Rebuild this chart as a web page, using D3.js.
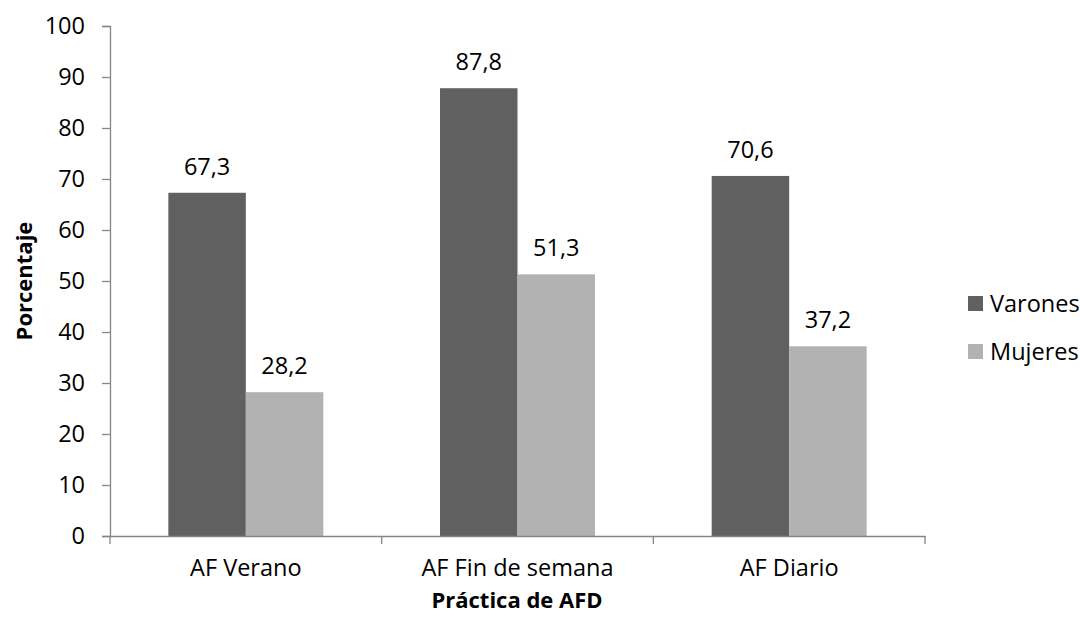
<!DOCTYPE html>
<html><head><meta charset="utf-8">
<script src="https://cdn.jsdelivr.net/npm/d3@7"></script>
<style>body{margin:0;background:#fff}svg{display:block}text{font-family:"Open Sans",sans-serif;fill:#000}</style>
</head><body>
<svg id="c" width="1080" height="619"></svg>
<script>
const categories = ["AF Verano", "AF Fin de semana", "AF Diario"];
const seriesNames = ["Varones", "Mujeres"];
const varones = [67.3, 87.8, 70.6];
const mujeres = [28.2, 51.3, 37.2];
const yTicks = [0, 10, 20, 30, 40, 50, 60, 70, 80, 90, 100];
const colors = ["#606060", "#b2b2b2"];

const svg = d3.select("#c");
const fs = 23.5;
const x = d3.scaleBand().domain(categories).range([110, 925]).paddingInner(0).paddingOuter(0);
const x1 = d3.scaleBand().domain(seriesNames).range([0, x.bandwidth()]).paddingOuter(0.753).paddingInner(0);
const y = d3.scaleLinear().domain([0, 100]).range([536, 26]);

// y axis
const ya = svg.append("g").attr("transform", "translate(110,0)")
  .call(d3.axisLeft(y).tickValues(yTicks).tickSize(8).tickPadding(17));
ya.select(".domain").attr("stroke", "#868686").attr("stroke-width", 1.3);
ya.selectAll(".tick line").attr("stroke", "#868686").attr("stroke-width", 1.3);
ya.selectAll("text").style("font-size", fs + "px").style("font-family", "Open Sans").attr("fill", "#000");

// bars
const data = categories.map((c, i) => ({c, vals: [varones[i], mujeres[i]]}));
const g = svg.append("g");
data.forEach(d => {
  d.vals.forEach((v, j) => {
    const s = seriesNames[j];
    g.append("rect")
      .attr("x", x(d.c) + x1(s)).attr("width", x1.bandwidth())
      .attr("y", y(v)).attr("height", y(0) - y(v))
      .attr("fill", colors[j]);
    g.append("text")
      .attr("x", x(d.c) + x1(s) + x1.bandwidth() / 2)
      .attr("y", y(v) - 18)
      .attr("text-anchor", "middle")
      .style("font-size", fs + "px")
      .text(String(v.toFixed(1)).replace(".", ","));
  });
});

// x axis
const xa = svg.append("g").attr("transform", "translate(0,536)")
  .call(d3.axisBottom(x).tickValues([]).tickSize(0));
xa.select(".domain").attr("stroke", "#868686").attr("stroke-width", 1.3);
[110, 110 + x.bandwidth(), 110 + 2 * x.bandwidth(), 925].forEach(px => {
  svg.append("line").attr("x1", px).attr("x2", px).attr("y1", 536).attr("y2", 544)
    .attr("stroke", "#868686").attr("stroke-width", 1.3);
});
categories.forEach(c => {
  svg.append("text").attr("x", x(c) + x.bandwidth() / 2).attr("y", 576)
    .attr("text-anchor", "middle").style("font-size", fs + "px").text(c);
});

// axis titles
svg.append("text").attr("x", 517).attr("y", 608).attr("text-anchor", "middle")
  .style("font-size", "22px").style("font-weight", "bold").text("Práctica de AFD");
svg.append("text").attr("transform", "translate(32,281) rotate(-90)").attr("text-anchor", "middle")
  .style("font-size", "22px").style("font-weight", "bold").text("Porcentaje");

// legend
seriesNames.forEach((s, i) => {
  const ly = 296 + i * 48;
  svg.append("rect").attr("x", 968).attr("y", ly).attr("width", 15).attr("height", 15).attr("fill", colors[i]);
  svg.append("text").attr("x", 990).attr("y", ly + 16).style("font-size", fs + "px").text(s);
});
</script>
</body></html>
